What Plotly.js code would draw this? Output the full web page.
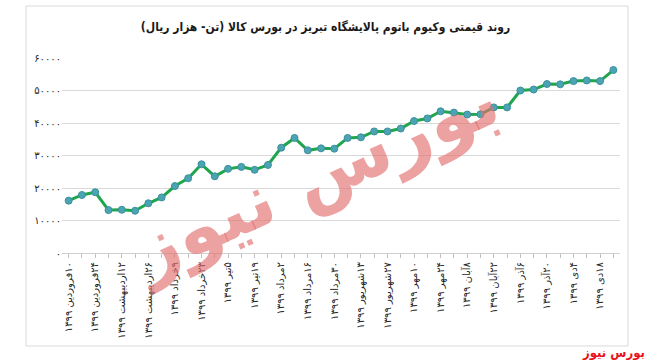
<!DOCTYPE html>
<html>
<head>
<meta charset="utf-8">
<script src="https://cdn.plot.ly/plotly-3.0.1.min.js"></script>
<style>html,body{margin:0;padding:0;background:#fff;}#chart{width:651px;height:363px;}</style>
</head>
<body>
<div id="chart"></div>
<script>
// Date labels (every second week)
const dateLabels = [
  "۱۰فروردین ۱۳۹۹", "۲۴فروردین ۱۳۹۹", "۱۲اردیبهشت ۱۳۹۹", "۲۶اردیبهشت ۱۳۹۹",
  "۹خرداد ۱۳۹۹", "۲۳خرداد ۱۳۹۹", "۵تیر ۱۳۹۹", "۱۹تیر ۱۳۹۹",
  "۲مرداد ۱۳۹۹", "۱۶مرداد ۱۳۹۹", "۳۰مرداد ۱۳۹۹", "۱۳شهریور ۱۳۹۹",
  "۲۷شهریور ۱۳۹۹", "۱۰مهر ۱۳۹۹", "۲۴مهر ۱۳۹۹", "۸آبان ۱۳۹۹",
  "۲۲آبان ۱۳۹۹", "۶آذر ۱۳۹۹", "۲۰آذر ۱۳۹۹", "۴دی ۱۳۹۹", "۱۸دی ۱۳۹۹"
];
// Price (thousand rial per ton), weekly
const prices = [
  16100, 17850, 18700, 13200, 13300, 13000, 15300, 17100, 20600, 23000,
  27300, 23600, 25900, 26500, 25600, 27100, 32400, 35400, 31600, 32200,
  32100, 35400, 35600, 37400, 37400, 38300, 40600, 41400, 43600, 43200,
  42600, 42700, 44800, 44800, 50000, 50300, 52000, 51900, 52900, 53100,
  52900, 56300
];
const yTickVals = [0, 10000, 20000, 30000, 40000, 50000, 60000];
const yTickText = ["۰", "۱۰۰۰۰", "۲۰۰۰۰", "۳۰۰۰۰", "۴۰۰۰۰", "۵۰۰۰۰", "۶۰۰۰۰"];
const titleText = "روند قیمتی وکیوم باتوم پالایشگاه تبریز در بورس کالا (تن- هزار ریال)";
const sourceText = "بورس نیوز";

const xIdx = prices.map((_, i) => i);
const tickText = xIdx.map(i => (i % 2 === 0 && dateLabels[i / 2]) ? "\u200F" + dateLabels[i / 2] : "");

const FONT = "DejaVu Sans, Noto Sans, sans-serif";
const FONT_C = "DejaVu Sans Condensed, DejaVu Sans, sans-serif";

const trace = {
  x: xIdx, y: prices, type: "scatter", mode: "lines+markers",
  line: {color: "#1fa64c", width: 3},
  marker: {size: 7, color: "#4ba4b3", line: {color: "#3d8f9c", width: 1}},
  hoverinfo: "skip"
};

// plot area pixels: x 62..620, y 58..253
const L = 62, R = 620, T = 58, B = 253;
const pw = R - L, ph = B - T;
const px = v => (v - L) / pw;
const py = v => (B - v) / ph;

const layout = {
  width: 651, height: 363,
  margin: {l: L, r: 651 - R, t: T, b: 363 - B},
  paper_bgcolor: "#ffffff", plot_bgcolor: "#ffffff",
  showlegend: false,
  font: {family: FONT, color: "#404040"},
  title: {
    text: "\u202B" + titleText + "\u202C",
    font: {family: FONT_C, size: 12, color: "#1a1a1a", weight: "bold"},
    x: 0.5, xanchor: "center", y: 1 - 27 / 363, yanchor: "middle", yref: "container"
  },
  xaxis: {
    range: [-0.5, prices.length - 0.5],
    tickmode: "array", tickvals: xIdx, ticktext: tickText,
    tickangle: -90, ticks: "outside", ticklen: 4, tickcolor: "#bfbfbf", tickwidth: 1,
    showline: true, linecolor: "#d0d0d0", linewidth: 1,
    showgrid: false, zeroline: false,
    tickfont: {family: FONT, size: 10, color: "#262626"}
  },
  yaxis: {
    range: [0, 60000],
    tickmode: "array", tickvals: yTickVals, ticktext: yTickText,
    showgrid: true, gridcolor: "#d9d9d9", gridwidth: 1,
    zeroline: false, showline: false, ticks: "",
    tickfont: {family: FONT, size: 10, color: "#262626"}
  },
  shapes: [{
    type: "rect", xref: "paper", yref: "paper",
    x0: px(26), x1: px(628), y0: py(346), y1: py(6),
    line: {color: "#d9d9d9", width: 1}, fillcolor: "rgba(0,0,0,0)", layer: "below"
  }],
  annotations: [
    {
      xref: "paper", yref: "paper", x: px(314), y: py(176), xanchor: "center", yanchor: "middle",
      text: "\u202B" + sourceText + "\u202C", showarrow: false, textangle: -24,
      font: {family: FONT, size: 74, color: "rgba(228,112,112,0.65)", weight: "bold"}
    },
    {
      xref: "paper", yref: "paper", x: px(647), y: py(352), xanchor: "right", yanchor: "middle",
      text: "\u202B" + sourceText + "\u202C", showarrow: false,
      font: {family: FONT_C, size: 13, color: "#e8141c", weight: "bold"}
    }
  ]
};

Plotly.newPlot("chart", [trace], layout, {displayModeBar: false, staticPlot: true});
</script>
</body>
</html>
